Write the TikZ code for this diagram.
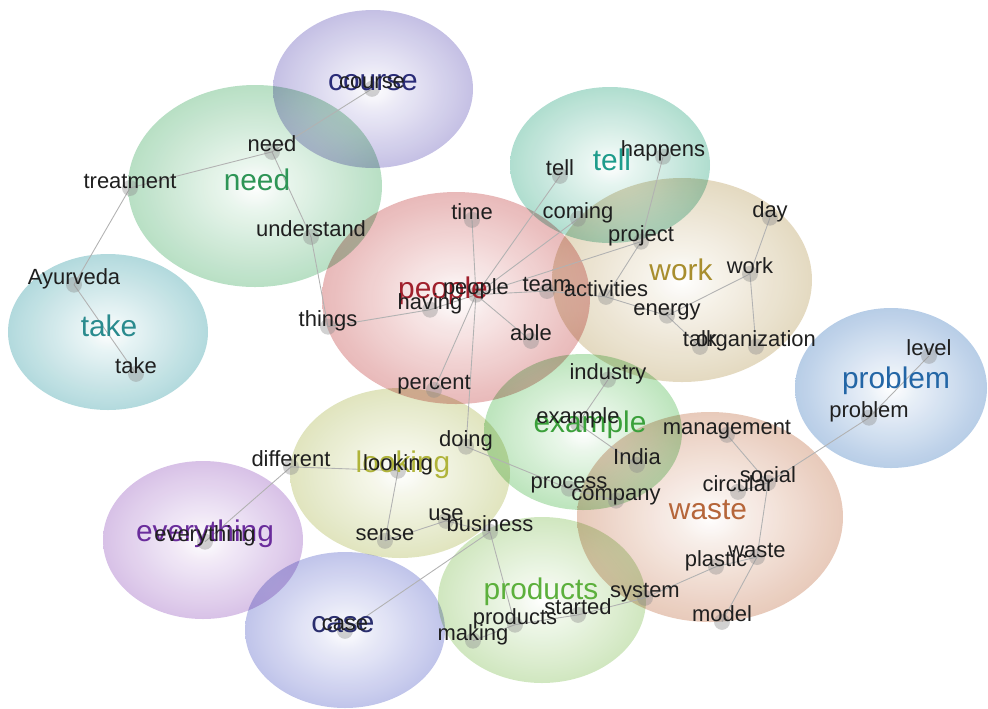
\documentclass[tikz,border=0pt]{standalone}
\usepackage{fontspec}
\setmainfont{Liberation Sans}
\definecolor{cCourse}{HTML}{978FD0}
\definecolor{cNeed}{HTML}{80C696}
\definecolor{cTake}{HTML}{76BCC2}
\definecolor{cPeople}{HTML}{D78282}
\definecolor{cTell}{HTML}{72C3AA}
\definecolor{cWork}{HTML}{CFBC90}
\definecolor{cProblem}{HTML}{7FA6D4}
\definecolor{cExample}{HTML}{88D088}
\definecolor{cLooking}{HTML}{C8D08C}
\definecolor{cWaste}{HTML}{D6A084}
\definecolor{cEverything}{HTML}{B991D4}
\definecolor{cCase}{HTML}{8F96DA}
\definecolor{cProducts}{HTML}{ACD48E}
\definecolor{tCourse}{HTML}{2A2C78}
\definecolor{tNeed}{HTML}{2E9556}
\definecolor{tTake}{HTML}{2A8B8E}
\definecolor{tPeople}{HTML}{A0202C}
\definecolor{tTell}{HTML}{1E9C8C}
\definecolor{tWork}{HTML}{A88E2E}
\definecolor{tProblem}{HTML}{2366A6}
\definecolor{tExample}{HTML}{3AA03A}
\definecolor{tLooking}{HTML}{B0B43A}
\definecolor{tWaste}{HTML}{B6663A}
\definecolor{tEverything}{HTML}{6A2C9C}
\definecolor{tCase}{HTML}{2A2E6E}
\definecolor{tProducts}{HTML}{5CB03C}
\newcommand\bubbleshading[1]{\pgfdeclareradialshading{bub#1}{\pgfpoint{0bp}{0bp}}{color(0bp)=(white); color(6bp)=(c#1!18!white); color(30bp)=(c#1!70!white); color(50bp)=(c#1)}}
\bubbleshading{Course}
\bubbleshading{Need}
\bubbleshading{Take}
\bubbleshading{People}
\bubbleshading{Tell}
\bubbleshading{Work}
\bubbleshading{Problem}
\bubbleshading{Example}
\bubbleshading{Looking}
\bubbleshading{Waste}
\bubbleshading{Everything}
\bubbleshading{Case}
\bubbleshading{Products}
\pgfdeclarelayer{bubbles}
\pgfdeclarelayer{links}
\pgfsetlayers{bubbles,links,main}
\begin{document}
\begin{tikzpicture}[x = 0.02cm, y = -0.02cm,
  bubble/.style = {shading = bub#1, opacity = .95, blend mode = multiply},
  word/.style = {font = \fontsize{12.5}{14}\selectfont, text = black!88, inner sep = 0pt},
  big/.style = {font = \fontsize{17}{19}\selectfont, text = t#1, inner sep = 0pt},
  link/.style = {draw = black!30, line width = .5pt}]
\useasboundingbox (0,0) rectangle (988,708);
\begin{pgfonlayer}{bubbles}
\shade[bubble = Course] (373,89) ellipse [x radius = 100, y radius = 79];
\shade[bubble = Need] (255,186) ellipse [x radius = 127, y radius = 101];
\shade[bubble = Take] (108,332) ellipse [x radius = 100, y radius = 78];
\shade[bubble = People] (456,298) ellipse [x radius = 134, y radius = 106];
\shade[bubble = Tell] (610,165) ellipse [x radius = 100, y radius = 78];
\shade[bubble = Work] (682,280) ellipse [x radius = 130, y radius = 102];
\shade[bubble = Problem] (891,388) ellipse [x radius = 96, y radius = 80];
\shade[bubble = Example] (583,432) ellipse [x radius = 99, y radius = 78];
\shade[bubble = Looking] (400,473) ellipse [x radius = 110, y radius = 85];
\shade[bubble = Waste] (710,517) ellipse [x radius = 133, y radius = 105];
\shade[bubble = Everything] (203,540) ellipse [x radius = 100, y radius = 79];
\shade[bubble = Case] (345,630) ellipse [x radius = 100, y radius = 78];
\shade[bubble = Products] (542,600) ellipse [x radius = 104, y radius = 83];
\end{pgfonlayer}
\node[big = Course] (Lcourse) at (373,83) {course};
\node[big = Need] (Lneed) at (257,180) {need};
\node[big = Take] (Ltake) at (109,326) {take};
\node[big = People] (Lpeople) at (443,291) {people};
\node[big = Tell] (Ltell) at (612,160) {tell};
\node[big = Work] (Lwork) at (681,270) {work};
\node[big = Problem] (Lproblem) at (896,381) {problem};
\node[big = Example] (Lexample) at (590,425) {example};
\node[big = Looking] (Llooking) at (403,465) {looking};
\node[big = Waste] (Lwaste) at (708,510) {waste};
\node[big = Everything] (Leverything) at (205,534) {everything};
\node[big = Case] (Lcase) at (343,625) {case};
\node[big = Products] (Lproducts) at (541,592) {products};
\node[word] (course) at (372,83) {course};
\node[word] (need) at (272,144) {need};
\node[word] (treatment) at (130,181) {treatment};
\node[word] (understand) at (311,229) {understand};
\node[word] (Ayurveda) at (74,279) {Ayurveda};
\node[word] (take) at (136,366) {take};
\node[word] (things) at (328,321) {things};
\node[word] (having) at (430,304) {having};
\node[word] (people) at (476,289) {people};
\node[word] (time) at (472,212) {time};
\node[word] (team) at (547,284) {team};
\node[word] (able) at (531,333) {able};
\node[word] (percent) at (434,385) {percent};
\node[word] (tell) at (560,168) {tell};
\node[word] (happens) at (663,151) {happens};
\node[word] (coming) at (578,213) {coming};
\node[word] (project) at (641,236) {project};
\node[word] (activities) at (606,289) {activities};
\node[word] (work) at (750,266) {work};
\node[word] (day) at (770,212) {day};
\node[word] (energy) at (667,312) {energy};
\node[word] (talk) at (700,339) {talk};
\node[word] (organization) at (756,341) {organization};
\node[word] (level) at (929,348) {level};
\node[word] (problem) at (869,412) {problem};
\node[word] (industry) at (608,374) {industry};
\node[word] (example) at (578,418) {example};
\node[word] (India) at (637,457) {India};
\node[word] (process) at (569,485) {process};
\node[word] (company) at (616,497) {company};
\node[word] (management) at (727,430) {management};
\node[word] (circular) at (738,484) {circular};
\node[word] (social) at (768,475) {social};
\node[word] (plastic) at (716,561) {plastic};
\node[word] (waste) at (757,550) {waste};
\node[word] (system) at (645,593) {system};
\node[word] (model) at (722,614) {model};
\node[word] (doing) at (466,441) {doing};
\node[word] (different) at (291,459) {different};
\node[word] (looking) at (398,465) {looking};
\node[word] (use) at (446,515) {use};
\node[word] (business) at (490,524) {business};
\node[word] (sense) at (385,535) {sense};
\node[word] (everything) at (205,536) {everything};
\node[word] (case) at (345,625) {case};
\node[word] (products) at (515,619) {products};
\node[word] (started) at (578,607) {started};
\node[word] (making) at (473,635) {making};
\begin{pgfonlayer}{links}
\draw[link] (course.base) -- (need.base);
\draw[link] (need.base) -- (treatment.base);
\draw[link] (need.base) -- (understand.base);
\draw[link] (treatment.base) -- (Ayurveda.base);
\draw[link] (Ayurveda.base) -- (take.base);
\draw[link] (understand.base) -- (things.base);
\draw[link] (things.base) -- (having.base);
\draw[link] (having.base) -- (people.base);
\draw[link] (people.base) -- (time.base);
\draw[link] (people.base) -- (team.base);
\draw[link] (people.base) -- (able.base);
\draw[link] (people.base) -- (percent.base);
\draw[link] (people.base) -- (doing.base);
\draw[link] (people.base) -- (coming.base);
\draw[link] (people.base) -- (tell.base);
\draw[link] (people.base) -- (project.base);
\draw[link] (team.base) -- (activities.base);
\draw[link] (activities.base) -- (project.base);
\draw[link] (project.base) -- (happens.base);
\draw[link] (activities.base) -- (energy.base);
\draw[link] (energy.base) -- (work.base);
\draw[link] (energy.base) -- (talk.base);
\draw[link] (work.base) -- (day.base);
\draw[link] (work.base) -- (organization.base);
\draw[link] (level.base) -- (problem.base);
\draw[link] (problem.base) -- (social.base);
\draw[link] (industry.base) -- (example.base);
\draw[link] (example.base) -- (India.base);
\draw[link] (doing.base) -- (process.base);
\draw[link] (process.base) -- (company.base);
\draw[link] (management.base) -- (social.base);
\draw[link] (circular.base) -- (social.base);
\draw[link] (social.base) -- (waste.base);
\draw[link] (plastic.base) -- (waste.base);
\draw[link] (waste.base) -- (model.base);
\draw[link] (plastic.base) -- (system.base);
\draw[link] (system.base) -- (started.base);
\draw[link] (products.base) -- (started.base);
\draw[link] (products.base) -- (making.base);
\draw[link] (business.base) -- (products.base);
\draw[link] (business.base) -- (use.base);
\draw[link] (use.base) -- (sense.base);
\draw[link] (sense.base) -- (looking.base);
\draw[link] (looking.base) -- (different.base);
\draw[link] (different.base) -- (everything.base);
\draw[link] (business.base) -- (case.base);
\foreach \w in {course, need, treatment, understand, Ayurveda, take, things, having, people, time, team, able, percent, tell, happens, coming, project, activities, work, day, energy, talk, organization, level, problem, industry, example, India, process, company, management, circular, social, plastic, waste, system, model, doing, different, looking, use, business, sense, everything, case, products, started, making}
  \fill[black!45, opacity = .4] (\w.base) circle [radius = 8];
\end{pgfonlayer}
\end{tikzpicture}
\end{document}
